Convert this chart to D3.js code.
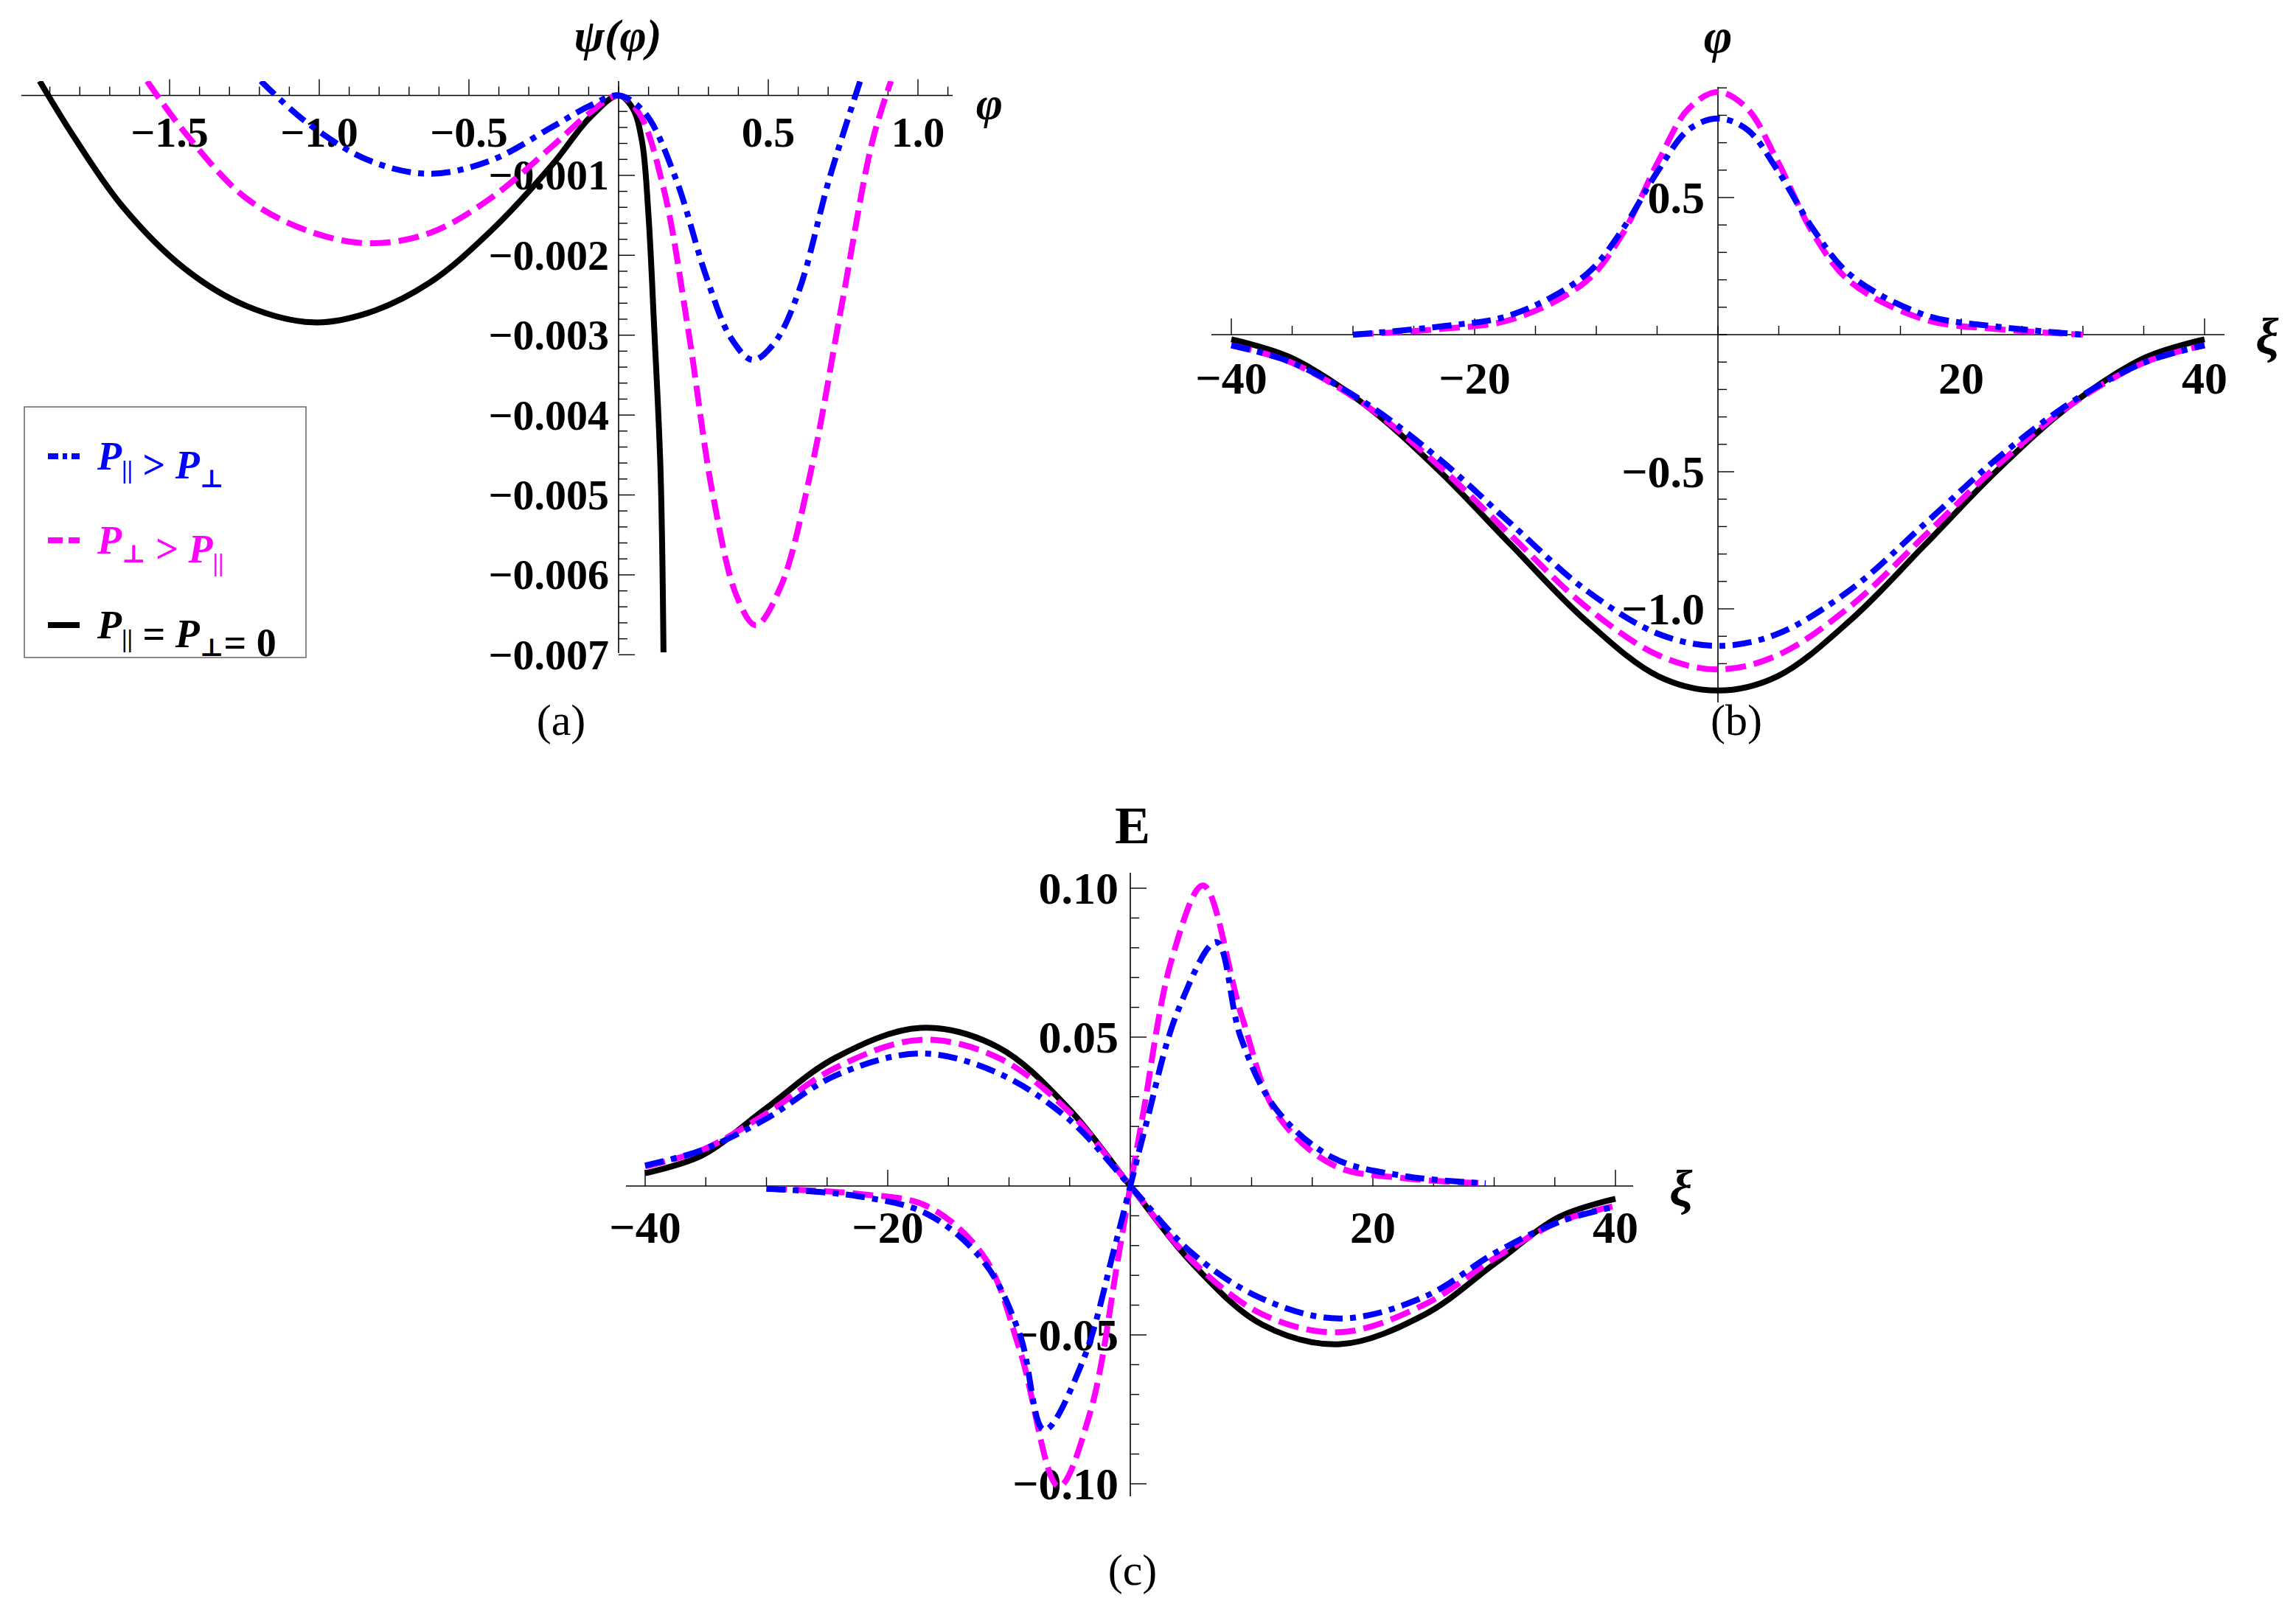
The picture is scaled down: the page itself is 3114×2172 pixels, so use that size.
<!DOCTYPE html>
<html><head><meta charset="utf-8">
<script src="https://cdn.jsdelivr.net/npm/d3@7"></script>
<style>body{margin:0;background:#fff}svg{display:block}</style>
</head><body>
<svg id="c" width="3114" height="2172"></svg>
<script>
// ---- panel (a): psi(phi), psi in units of 1e-3
const aBlack = [[-1.934,0.18],[-1.821,-0.51],[-1.657,-1.39],[-1.452,-2.16],[-1.246,-2.63],[-1.021,-2.84],[-0.836,-2.72],[-0.630,-2.34],[-0.425,-1.69],[-0.220,-0.86],[-0.097,-0.28],[0,0],[0.047,-0.16],[0.078,-0.57],[0.099,-1.45],[0.119,-2.92],[0.140,-4.69],[0.150,-6.97]];
const aBlue = [[-1.195,0.18],[-1.041,-0.34],[-0.836,-0.81],[-0.630,-0.98],[-0.425,-0.81],[-0.220,-0.39],[-0.097,-0.13],[0,0],[0.088,-0.22],[0.191,-1.04],[0.294,-2.28],[0.376,-3.04],[0.448,-3.31],[0.520,-3.10],[0.602,-2.45],[0.704,-1.04],[0.807,0.18]];
const aMagenta = [[-1.575,0.18],[-1.452,-0.45],[-1.246,-1.28],[-1.041,-1.69],[-0.836,-1.85],[-0.630,-1.72],[-0.425,-1.28],[-0.220,-0.63],[-0.097,-0.22],[0,0],[0.068,-0.22],[0.150,-1.16],[0.232,-2.92],[0.314,-4.98],[0.396,-6.28],[0.458,-6.63],[0.540,-6.16],[0.643,-4.69],[0.745,-2.63],[0.848,-0.57],[0.910,0.18]];
const aXTicks = [-1.5,-1.0,-0.5,0.5,1.0];
const aYTicks = [-1,-2,-3,-4,-5,-6,-7];

// ---- panel (b): phi(xi)
const bBlackNeg = [[-40,-0.017],[-35.2,-0.082],[-29.1,-0.253],[-23.0,-0.493],[-17.0,-0.767],[-10.9,-1.041],[-4.85,-1.247],[0,-1.298],[4.85,-1.247],[10.9,-1.041],[17.0,-0.767],[23.0,-0.493],[29.1,-0.253],[35.2,-0.082],[40,-0.017]];
const bMagentaNeg = [[-40,-0.039],[-35.2,-0.099],[-29.1,-0.253],[-23.0,-0.476],[-17.0,-0.733],[-10.9,-0.99],[-4.85,-1.17],[0,-1.221],[4.85,-1.17],[10.9,-0.99],[17.0,-0.733],[23.0,-0.476],[29.1,-0.253],[35.2,-0.099],[40,-0.039]];
const bBlueNeg = [[-40,-0.039],[-35.2,-0.099],[-29.1,-0.245],[-23.0,-0.45],[-17.0,-0.69],[-10.9,-0.93],[-4.85,-1.092],[0,-1.135],[4.85,-1.092],[10.9,-0.93],[17.0,-0.69],[23.0,-0.45],[29.1,-0.245],[35.2,-0.099],[40,-0.039]];
const bMagentaPos = [[-30,0.0],[-23,0.02],[-17,0.055],[-10.9,0.192],[-7.9,0.363],[-4.85,0.637],[-2.4,0.825],[0,0.885],[2.4,0.825],[4.85,0.637],[7.9,0.363],[10.9,0.192],[17,0.055],[23,0.02],[30,0.0]];
const bBluePos = [[-30,0.0],[-23,0.029],[-17,0.072],[-10.9,0.217],[-7.9,0.38],[-4.85,0.603],[-2.4,0.748],[0,0.788],[2.4,0.748],[4.85,0.603],[7.9,0.38],[10.9,0.217],[17,0.072],[23,0.029],[30,0.0]];
const bXTicks = [-40,-20,20,40];
const bYTicks = [0.5,-0.5,-1.0];

// ---- panel (c): E(xi)
const cBlack = [[-40,0.0043],[-35.3,0.0103],[-30.1,0.0259],[-24.3,0.0431],[-17.3,0.0531],[-10.9,0.0466],[-5.06,0.0259],[0,0],[5.1,-0.0259],[10.9,-0.0466],[17.3,-0.0531],[24.3,-0.0431],[30.1,-0.0259],[35.4,-0.0103],[40,-0.0043]];
const cMagentaWide = [[-40,0.0066],[-35.3,0.0121],[-30.1,0.0241],[-24.3,0.0397],[-17.3,0.0491],[-10.9,0.0431],[-5.06,0.025],[0,0],[5.06,-0.025],[10.9,-0.0431],[17.3,-0.0491],[24.3,-0.0397],[30.1,-0.0241],[35.3,-0.0121],[40,-0.0066]];
const cBlueWide = [[-40,0.0069],[-35.3,0.0121],[-30.1,0.0224],[-24.3,0.0371],[-17.3,0.0445],[-10.9,0.0379],[-5.06,0.0224],[0,0],[5.06,-0.0224],[10.9,-0.0379],[17.3,-0.0445],[24.3,-0.0371],[30.1,-0.0224],[35.3,-0.0121],[40,-0.0069]];
const cMagentaNarrow = [[-30,-0.0009],[-22.5,-0.0026],[-16.7,-0.0069],[-12.0,-0.0241],[-9.1,-0.0552],[-5.9,-0.1009],[-3.3,-0.0759],[-1.0,-0.0241],[0,0],[1.05,0.0241],[3.4,0.0759],[6.0,0.1009],[9.2,0.0569],[12.1,0.0241],[16.8,0.0069],[22.6,0.0026],[29.3,0.0009]];
const cBlueNarrow = [[-30,-0.0009],[-22.5,-0.0034],[-16.7,-0.0095],[-12.0,-0.0259],[-9.1,-0.05],[-7.1,-0.0819],[-3.9,-0.0586],[-1.3,-0.0207],[0,0],[1.3,0.0207],[3.9,0.0586],[7.1,0.0819],[9.1,0.05],[12.0,0.0259],[16.7,0.0095],[22.5,0.0034],[29.3,0.0009]];
const cXTicks = [-40,-20,20,40];
const cYTicks = [0.10,0.05,-0.05,-0.10];

const BLUE = '#0000ff', MAG = '#ff00ff';
const styles = {
  black: {stroke:'#000', dash:null},
  blue: {stroke:BLUE, dash:'26,10,8,10'},
  magenta: {stroke:MAG, dash:'28,11'}
};
const svg = d3.select('#c');
const serif = '"Liberation Serif","DejaVu Serif",serif';
const fmtMinus = s => s.replace('-', '\u2212');

function panel(o) {
  const g = svg.append('g');
  const x = d3.scaleLinear().domain(o.xd).range(o.xr);
  const y = d3.scaleLinear().domain(o.yd).range(o.yr);
  const id = 'clip' + o.name;
  g.append('clipPath').attr('id', id).append('rect')
    .attr('x', o.clip[0]).attr('y', o.clip[1]).attr('width', o.clip[2]).attr('height', o.clip[3]);
  // axes
  g.append('line').attr('x1', o.xAxisExt[0]).attr('x2', o.xAxisExt[1])
    .attr('y1', y(0)).attr('y2', y(0)).attr('stroke', '#000').attr('stroke-width', 1.6);
  g.append('line').attr('x1', x(0)).attr('x2', x(0))
    .attr('y1', o.yAxisExt[0]).attr('y2', o.yAxisExt[1]).attr('stroke', '#000').attr('stroke-width', 1.6);
  // x ticks (upward)
  d3.range(o.xMinor[0], o.xMinor[1] + 1e-9, o.xMinor[2]).forEach(v => {
    const major = o.xTicks.some(t => Math.abs(t - v) < 1e-6);
    g.append('line').attr('x1', x(v)).attr('x2', x(v)).attr('y1', y(0)).attr('y2', y(0) - (major ? 22 : 12))
      .attr('stroke', '#000').attr('stroke-width', 1.4);
  });
  d3.range(o.yMinor[0], o.yMinor[1] + 1e-9, o.yMinor[2]).forEach(v => {
    const major = o.yTicks.some(t => Math.abs(t - v) < 1e-6);
    g.append('line').attr('y1', y(v)).attr('y2', y(v)).attr('x1', x(0)).attr('x2', x(0) + (major ? 22 : 12))
      .attr('stroke', '#000').attr('stroke-width', 1.4);
  });
  o.xTicks.forEach(v => g.append('text').attr('x', x(v)).attr('y', o.xLabelY)
    .attr('text-anchor', 'middle').attr('dominant-baseline', 'central')
    .attr('font-family', serif).attr('font-weight', 'bold').attr('font-size', o.fs)
    .text(fmtMinus(o.xFmt(v))));
  o.yTicks.forEach(v => g.append('text').attr('x', o.yLabelX).attr('y', y(v))
    .attr('text-anchor', 'end').attr('dominant-baseline', 'central')
    .attr('font-family', serif).attr('font-weight', 'bold').attr('font-size', o.fs)
    .text(fmtMinus(o.yFmt(v))));
  const line = d3.line().x(d => x(d[0])).y(d => y(d[1])).curve(d3.curveCatmullRom.alpha(0.5));
  const cg = g.append('g').attr('clip-path', `url(#${id})`);
  o.series.forEach(s => {
    const st = styles[s.kind];
    cg.append('path').attr('d', line(s.data)).attr('fill', 'none')
      .attr('stroke', st.stroke).attr('stroke-width', 8).attr('stroke-dasharray', st.dash);
  });
  return {g, x, y};
}

// (a)
const pa = panel({
  name: 'a', xd: [0, 0.5], xr: [839, 1042], yd: [0, -1], yr: [129.5, 237.9],
  clip: [29, 110, 1263, 780], xAxisExt: [29, 1292], yAxisExt: [110, 886],
  xMinor: [-1.9, 1.1, 0.1], yMinor: [-7, 0, 0.2], xTicks: aXTicks, yTicks: aYTicks,
  xLabelY: 179, yLabelX: 826, fs: 58,
  xFmt: v => d3.format('.1f')(v), yFmt: v => d3.format('.3f')(v / 1000),
  series: [{kind:'black', data:aBlack}, {kind:'magenta', data:aMagenta}, {kind:'blue', data:aBlue}]
});
svg.append('text').attr('x', 838).attr('y', 48).attr('text-anchor', 'middle').attr('dominant-baseline', 'central')
  .attr('font-family', serif).attr('font-style', 'italic').attr('font-weight', 'bold').attr('font-size', 62).text('ψ(φ)');
svg.append('text').attr('x', 1342).attr('y', 140).attr('text-anchor', 'middle').attr('dominant-baseline', 'central')
  .attr('font-family', serif).attr('font-style', 'italic').attr('font-weight', 'bold').attr('font-size', 62).text('φ');

// legend
const leg = svg.append('g');
leg.append('rect').attr('x', 33).attr('y', 552).attr('width', 382).attr('height', 340)
  .attr('fill', '#fff').attr('stroke', '#666').attr('stroke-width', 1.5);
const legItems = [
  {kind:'blue', y:619, parts:[['P','||'],[' > '],['P','⊥']]},
  {kind:'magenta', y:733, parts:[['P','⊥'],[' > '],['P','||']]},
  {kind:'black', y:848, parts:[['P','||'],[' = '],['P','⊥'],['= 0']]}
];
legItems.forEach(it => {
  const st = styles[it.kind];
  leg.append('line').attr('x1', 65).attr('x2', 108).attr('y1', it.y).attr('y2', it.y)
    .attr('stroke', st.stroke).attr('stroke-width', 8).attr('stroke-dasharray', it.kind === 'blue' ? '14,6,6,6' : (it.kind === 'magenta' ? '20,8' : null));
  const t = leg.append('text').attr('x', 132).attr('y', it.y + 18).attr('font-family', serif)
    .attr('font-weight', 'bold').attr('font-size', 54).attr('fill', st.stroke);
  it.parts.forEach(p => {
    if (p.length === 2) {
      t.append('tspan').attr('font-style', 'italic').text(p[0]);
      t.append('tspan').attr('font-size', 34).attr('dy', 12).text(p[1]);
      t.append('tspan').attr('dy', -12).text('');
    } else t.append('tspan').text(p[0]);
  });
});

// (b)
panel({
  name: 'b', xd: [0, 40], xr: [2330, 2990], yd: [0, 0.5], yr: [454, 268],
  clip: [1643, 118, 1374, 835], xAxisExt: [1643, 3017], yAxisExt: [118, 953],
  xMinor: [-40, 40, 5], yMinor: [-1.3, 0.9, 0.1], xTicks: bXTicks, yTicks: bYTicks,
  xLabelY: 513, yLabelX: 2312, fs: 62,
  xFmt: v => d3.format('d')(v), yFmt: v => d3.format('.1f')(v),
  series: [{kind:'black', data:bBlackNeg}, {kind:'magenta', data:bMagentaNeg}, {kind:'blue', data:bBlueNeg},
           {kind:'magenta', data:bMagentaPos}, {kind:'blue', data:bBluePos}]
});
svg.append('text').attr('x', 2330).attr('y', 48).attr('text-anchor', 'middle').attr('dominant-baseline', 'central')
  .attr('font-family', serif).attr('font-style', 'italic').attr('font-weight', 'bold').attr('font-size', 66).text('φ');
svg.append('text').attr('x', 3075).attr('y', 456).attr('text-anchor', 'middle').attr('dominant-baseline', 'central')
  .attr('font-family', serif).attr('font-style', 'italic').attr('font-weight', 'bold').attr('font-size', 70).text('ξ');

// (c)
panel({
  name: 'c', xd: [0, 40], xr: [1533, 2191], yd: [0, 0.05], yr: [1609, 1407],
  clip: [849, 1184, 1366, 846], xAxisExt: [849, 2215], yAxisExt: [1184, 2030],
  xMinor: [-40, 40, 5], yMinor: [-0.1, 0.1, 0.01], xTicks: cXTicks, yTicks: cYTicks,
  xLabelY: 1665, yLabelX: 1517, fs: 62,
  xFmt: v => d3.format('d')(v), yFmt: v => d3.format('.2f')(v),
  series: [{kind:'black', data:cBlack}, {kind:'magenta', data:cMagentaWide}, {kind:'blue', data:cBlueWide},
           {kind:'magenta', data:cMagentaNarrow}, {kind:'blue', data:cBlueNarrow}]
});
svg.append('text').attr('x', 1536).attr('y', 1120).attr('text-anchor', 'middle').attr('dominant-baseline', 'central')
  .attr('font-family', serif).attr('font-weight', 'bold').attr('font-size', 72).text('E');
svg.append('text').attr('x', 2280).attr('y', 1612).attr('text-anchor', 'middle').attr('dominant-baseline', 'central')
  .attr('font-family', serif).attr('font-style', 'italic').attr('font-weight', 'bold').attr('font-size', 70).text('ξ');

// panel captions
[['(a)', 761, 977], ['(b)', 2355, 977], ['(c)', 1536, 2130]].forEach(c =>
  svg.append('text').attr('x', c[1]).attr('y', c[2]).attr('text-anchor', 'middle').attr('dominant-baseline', 'central')
    .attr('font-family', serif).attr('font-size', 60).text(c[0]));
</script>
</body></html>
